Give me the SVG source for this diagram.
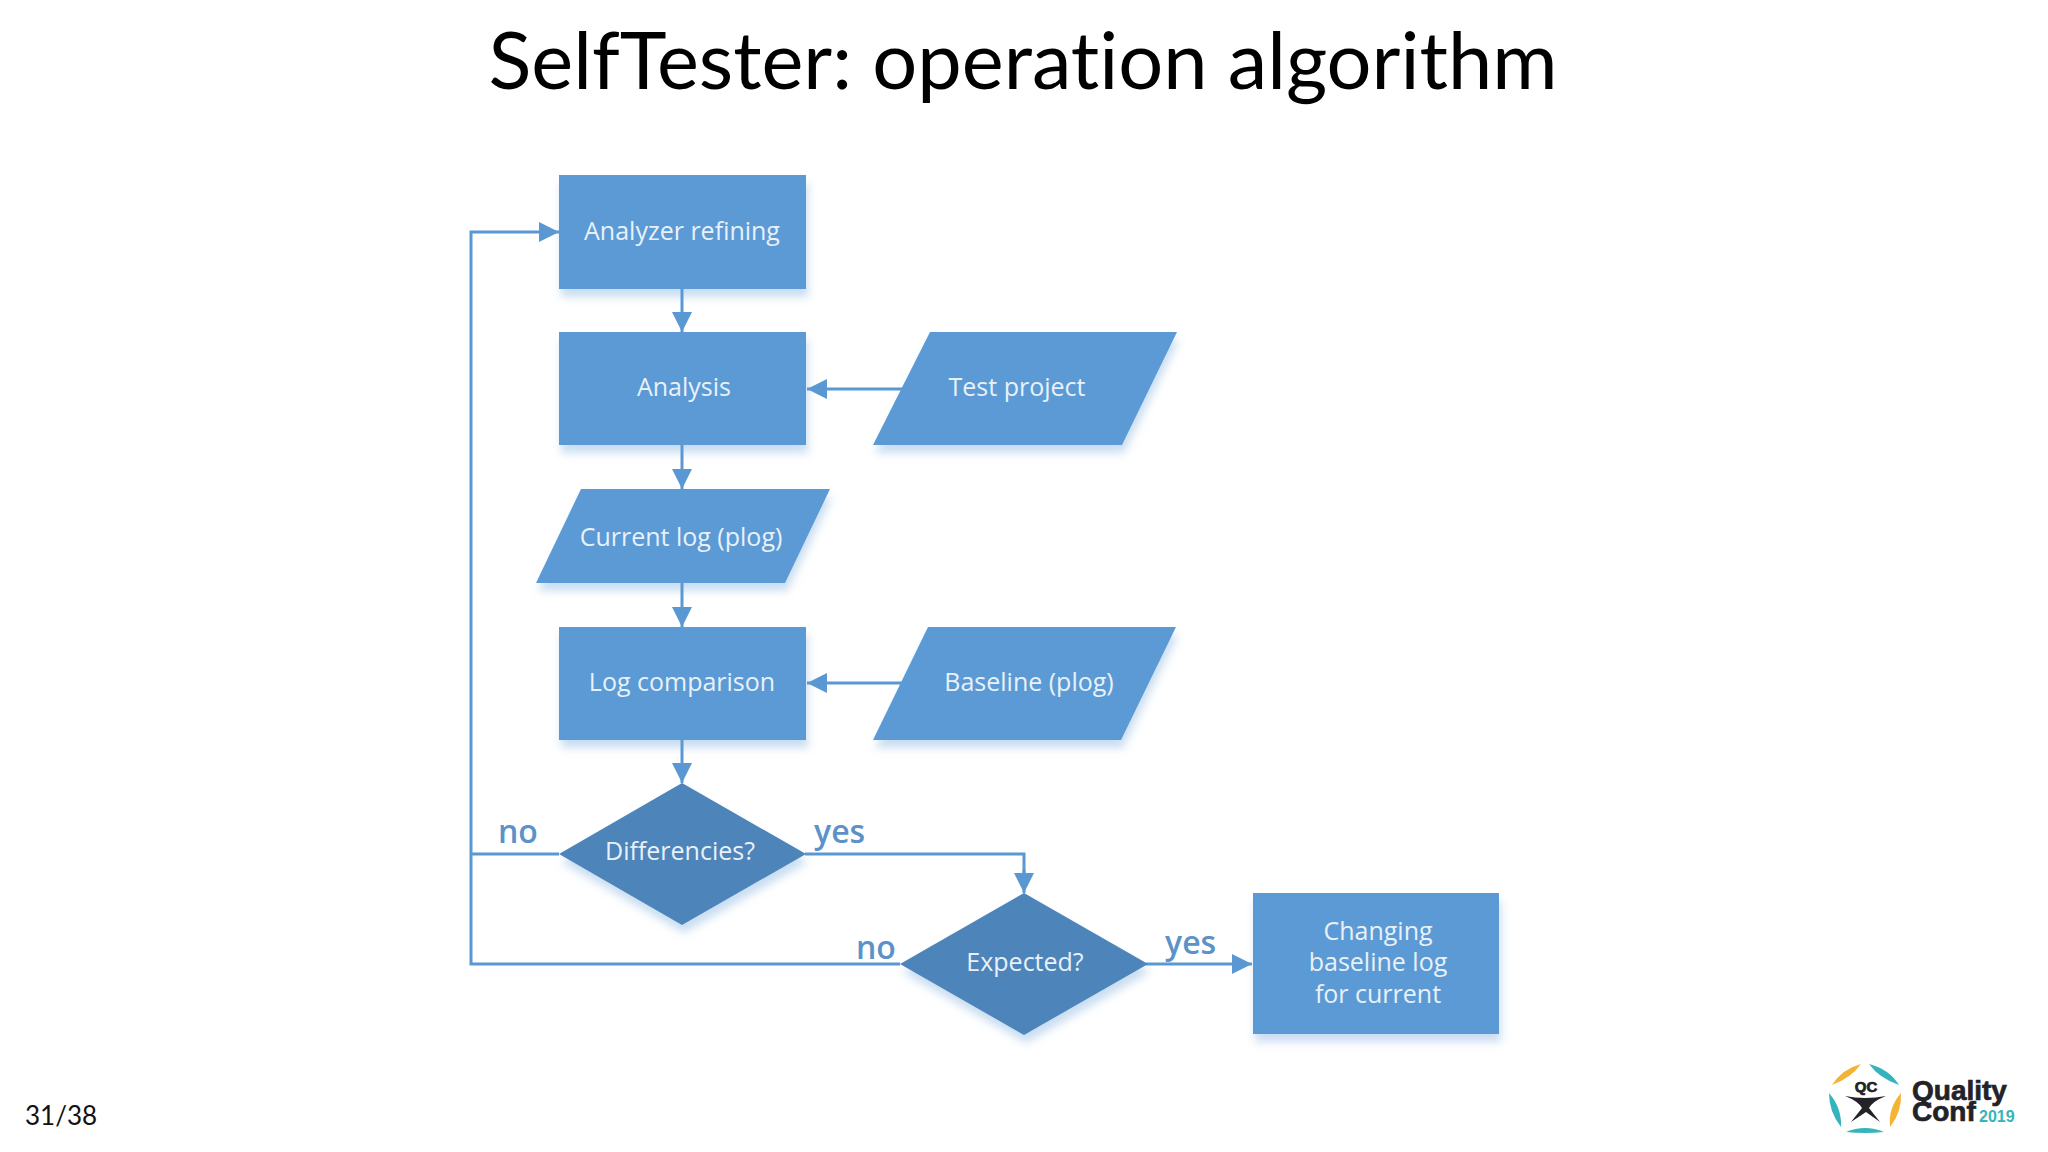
<svg xmlns="http://www.w3.org/2000/svg" width="2048" height="1152" viewBox="0 0 2048 1152">
<style>
.n{fill:#5b9ad5;filter:url(#sh)}
.d{fill:#4d85ba;filter:url(#sh)}
.t{font-family:"Open Sans","Noto Sans",sans-serif;font-size:25px;fill:#e8f1f9;text-anchor:middle}
.l{font-family:"Open Sans","Noto Sans",sans-serif;font-size:32px;font-weight:600;fill:#5b92c9}
.c{fill:none;stroke:#5a98d3;stroke-width:3}
.h{fill:#5a98d3}
.lg{font-family:"Liberation Sans",Arial,sans-serif;font-weight:700;fill:#222228;stroke:#222228;stroke-width:.7}
</style>
<defs>
<filter id="sh" x="-15%" y="-15%" width="130%" height="135%">
<feDropShadow dx="2" dy="8" stdDeviation="4.5" flood-color="#5b9ad5" flood-opacity="0.33"/>
</filter>
<marker id="a" markerUnits="userSpaceOnUse" markerWidth="22" markerHeight="22" refX="20" refY="10" orient="auto">
<path class="h" d="M0 0L20 10L0 20Z"/>
</marker>
</defs>
<rect width="2048" height="1152" fill="#fff"/>
<text x="1023" y="89" font-family="Lato,'Liberation Sans',sans-serif" font-size="80" fill="#000" text-anchor="middle" textLength="1069" lengthAdjust="spacingAndGlyphs" style="font-variant-ligatures:none">SelfTester: operation algorithm</text>
<g id="connectors">
<path class="c" marker-end="url(#a)" d="M682 289V332"/>
<path class="c" marker-end="url(#a)" d="M682 445V489"/>
<path class="c" marker-end="url(#a)" d="M682 583V627"/>
<path class="c" marker-end="url(#a)" d="M682 740V783"/>
<path class="c" marker-end="url(#a)" d="M903 389H807"/>
<path class="c" marker-end="url(#a)" d="M903 683H807"/>
<path class="c" d="M805 854H1024V875"/>
<path class="c" marker-end="url(#a)" d="M1024 870V893"/>
<path class="c" marker-end="url(#a)" d="M1146 964H1252"/>
<path class="c" d="M559 854H471"/>
<path class="c" marker-end="url(#a)" d="M900 964H471V232H559"/>
</g>
<g id="analyzer"><rect class="n" x="559" y="175" width="247" height="114"/><text class="t" x="682" y="240">Analyzer refining</text></g>
<g id="analysis"><rect class="n" x="559" y="332" width="247" height="113"/><text class="t" x="684" y="396">Analysis</text></g>
<g id="test-project"><path class="n" d="M930 332H1177L1122 445H873Z"/><text class="t" x="1017" y="396">Test project</text></g>
<g id="current-log"><path class="n" d="M581 489H830L785 583H536Z"/><text class="t" x="681" y="546">Current log (plog)</text></g>
<g id="log-comparison"><rect class="n" x="559" y="627" width="247" height="113"/><text class="t" x="682" y="691">Log comparison</text></g>
<g id="baseline"><path class="n" d="M928 627H1176L1121 740H873Z"/><text class="t" x="1029" y="691">Baseline (plog)</text></g>
<g id="differencies"><path class="d" d="M682 783L806 854L682 925L559 854Z"/><text class="t" x="680" y="860">Differencies?</text></g>
<g id="expected"><path class="d" d="M1024 893L1148 964L1024 1035L900 964Z"/><text class="t" x="1025" y="971">Expected?</text></g>
<g id="changing"><rect class="n" x="1253" y="893" width="246" height="141"/><text class="t" x="1378" y="940">Changing</text><text class="t" x="1378" y="971">baseline log</text><text class="t" x="1378" y="1003">for current</text></g>
<g id="labels">
<text class="l" x="498" y="843">no</text>
<text class="l" x="814" y="843">yes</text>
<text class="l" x="856" y="959">no</text>
<text class="l" x="1165" y="954">yes</text>
</g>
<text x="25" y="1125" font-family="Lato,'Liberation Sans',sans-serif" font-size="26" fill="#111">31/38</text>
<g id="logo">
<path fill="#f5b335" d="M1832 1085Q1851 1078 1861 1064Q1842 1069 1832 1085Z"/>
<path fill="#35b5bb" d="M1869 1064Q1879 1078 1899 1085Q1889 1069 1869 1064Z"/>
<path fill="#f5b335" d="M1901 1093Q1888 1108 1890 1127Q1902 1112 1901 1093Z"/>
<path fill="#35b5bb" d="M1829 1093Q1829 1112 1841 1127Q1842 1108 1829 1093Z"/>
<path fill="#35b5bb" d="M1846 1132Q1865 1134 1884 1132Q1865 1124 1846 1132Z"/>
<path fill="#222228" d="M1845 1096Q1865 1100 1886 1096Q1873 1101 1869 1108L1880 1122L1866 1112L1851 1122L1862 1108Q1858 1101 1845 1096Z"/>
<text class="lg" x="1866" y="1092" font-size="15" text-anchor="middle">QC</text>
<text class="lg" font-size="28"><tspan x="1912" y="1100">Quality</tspan><tspan x="1912" y="1121">Conf</tspan></text>
<text x="1979" y="1122" font-family="'Liberation Sans',Arial,sans-serif" font-weight="700" font-size="16" fill="#35b5bb">2019</text>
</g>
</svg>
